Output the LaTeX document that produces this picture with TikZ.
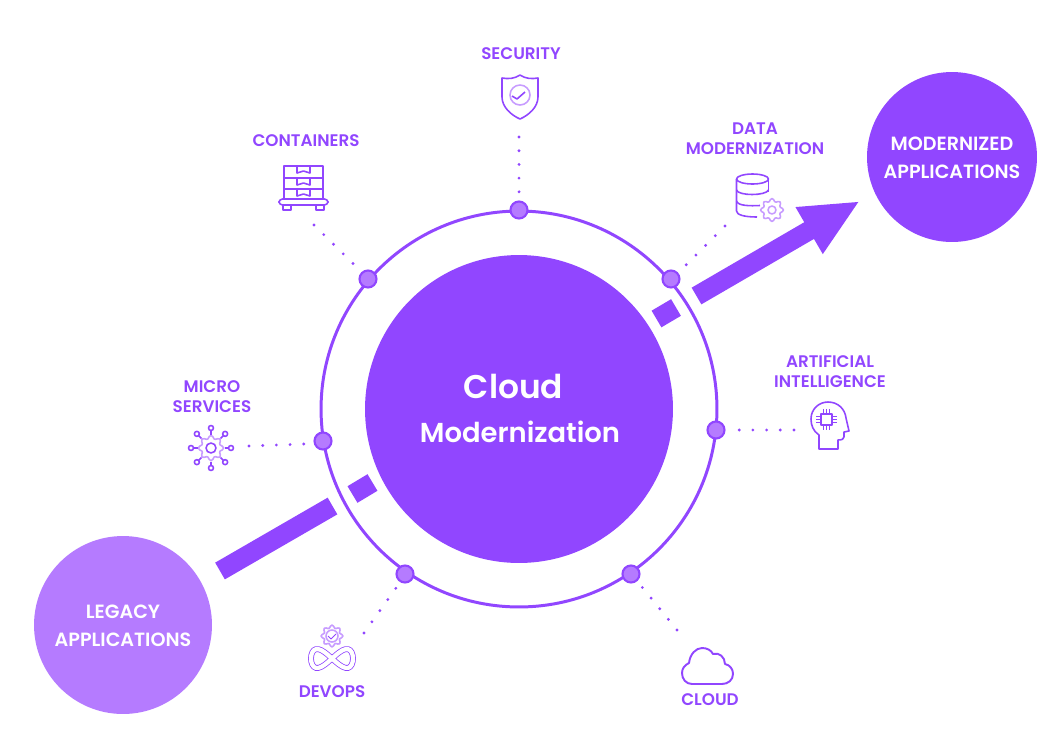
\documentclass[tikz,border=0pt]{standalone}
\usepackage{fontspec}
\setmainfont{Poppins}
\newfontfamily\labelfont{Poppins SemiBold}
\usetikzlibrary{arrows.meta}
\definecolor{mainpurple}{HTML}{9146FF}
\definecolor{softpurple}{HTML}{B57BFF}
\definecolor{palepurple}{HTML}{C79CFF}
\newcommand{\gearicon}[3]{\draw[iconlight] plot[smooth cycle, samples=40, domain=0:351, variable=\ang] ({#1+#3*(1+0.15*cos(8*\ang))*cos(\ang)},{#2+#3*(1+0.15*cos(8*\ang))*sin(\ang)});}
\begin{document}
\begin{tikzpicture}[x=0.02cm, y=-0.02cm,
    ringdot/.style = {draw=mainpurple, fill=softpurple, circle, line width=1.2pt, minimum size=0.34cm, inner sep=0pt},
    toplabel/.style = {text=mainpurple, font=\labelfont\fontsize{9.55}{11.4}\selectfont, align=center},
    bigtext/.style = {text=white, font=\labelfont\fontsize{10.9}{15.9}\selectfont, align=center},
    dotline/.style = {draw=mainpurple, line width=1.8pt, line cap=round, dash pattern=on 0pt off 7.8pt},
    bar/.style = {draw=mainpurple, line width=11pt},
    icon/.style = {draw=mainpurple, line width=0.9pt, line join=round},
    iconlight/.style = {draw=palepurple, line width=0.9pt, line join=round}]
    \useasboundingbox (0,0) rectangle (1055,755);

    % circles
    \node[draw=mainpurple, circle, line width=1.7pt, minimum size=7.92cm] (ring) at (519,409) {};
    \node[fill=mainpurple, circle, minimum size=6.16cm, inner sep=0pt] (core) at (519,409) {};
    \node[fill=mainpurple, circle, minimum size=3.4cm, inner sep=0pt] (modern) at (952,157) {};
    \node[fill=softpurple, circle, minimum size=3.56cm, inner sep=0pt] (legacy) at (123,625) {};
    \node[bigtext] (modlabel) at (952,158) {MODERNIZED\\APPLICATIONS};
    \node[bigtext] (leglabel) at (123,626) {LEGACY\\APPLICATIONS};
    \node[text=white, font=\labelfont\fontsize{18.7}{20}\selectfont] (cloudtext) at (513.5,386) {Cloud};
    \node[text=white, font=\labelfont\fontsize{15.6}{20}\selectfont] (modtext) at (520,432) {Modernization};

    % bars
    \coordinate (legA) at (220,571);
    \coordinate (legB) at (332.5,506);
    \coordinate (legC) at (352.5,494.5);
    \coordinate (legD) at (372.5,482.5);
    \coordinate (modA) at (656.5,319);
    \coordinate (modB) at (676,307.5);
    \coordinate (modC) at (696.5,296);
    \coordinate (modD) at (860,201);
    \draw[bar] (legA) -- (legB);
    \draw[bar] (legC) -- (legD);
    \draw[bar] (modA) -- (modB);
    \draw[bar, fill=mainpurple, -{Triangle[width=28.2pt, length=33.5pt]}] (modC) -- (modD);

    % ring dots
    \node[ringdot] (secdot) at (519,210) {};
    \node[ringdot] (condot) at (368,279) {};
    \node[ringdot] (datdot) at (671,279) {};
    \node[ringdot] (aidot) at (716,430) {};
    \node[ringdot] (micdot) at (323,441) {};
    \node[ringdot] (devdot) at (405,574) {};
    \node[ringdot] (clodot) at (631,574) {};

    % dotted lines
    \coordinate (secA) at (519,137);
    \coordinate (secB) at (519,192);
    \coordinate (conA) at (314,225);
    \coordinate (conB) at (353.5,264);
    \coordinate (datA) at (725,226);
    \coordinate (datB) at (686,265);
    \coordinate (aiA) at (794,430);
    \coordinate (aiB) at (738,430);
    \coordinate (micA) at (249,446);
    \coordinate (micB) at (304,444);
    \coordinate (devA) at (364,633);
    \coordinate (devB) at (396,588);
    \coordinate (cloA) at (677,630);
    \coordinate (cloB) at (642,587);
    \draw[dotline] (secA) -- (secB);
    \draw[dotline] (conA) -- (conB);
    \draw[dotline] (datA) -- (datB);
    \draw[dotline] (aiA) -- (aiB);
    \draw[dotline] (micA) -- (micB);
    \draw[dotline] (devA) -- (devB);
    \draw[dotline] (cloA) -- (cloB);

    % labels
    \node[toplabel] (seclabel) at (521,53.5) {SECURITY};
    \node[toplabel] (conlabel) at (306,140.5) {CONTAINERS};
    \node[toplabel] (datlabel) at (755,138.5) {DATA\\MODERNIZATION};
    \node[toplabel] (ailabel) at (830,371.5) {ARTIFICIAL\\INTELLIGENCE};
    \node[toplabel] (miclabel) at (212,396.5) {MICRO\\SERVICES};
    \node[toplabel] (devlabel) at (332,691.5) {DEVOPS};
    \node[toplabel] (clolabel) at (710,699.5) {CLOUD};

    % security icon
    \draw[icon] (520,75) .. controls (514,79) and (508,79) .. (502,78) -- (502,97) .. controls (502,107) and (511,115) .. (520,119) .. controls (529,115) and (538,107) .. (538,97) -- (538,78) .. controls (532,79) and (526,79) .. (520,75) -- cycle;
    \draw[iconlight] (520,95) circle[radius=10];
    \draw[icon] (512,96) -- (517,99) -- (525,92);

    % containers icon
    \draw[icon] (284,166) rectangle (323,199);
    \draw[icon] (284,178) -- (323,178);
    \draw[icon] (284,189) -- (323,189);
    \foreach \rowy in {166,178,189} {
        \draw[icon] (297,\rowy) -- (297,\rowy+7) -- (303.5,\rowy+5) -- (310,\rowy+7) -- (310,\rowy);
    }
    \draw[icon, rounded corners=2pt] (279,199) rectangle (328,205);
    \draw[icon] (283,205) rectangle (291,210);
    \draw[icon] (316,205) rectangle (324,210);

    % data icon
    \draw[icon] (752.5,179) ellipse[x radius=16, y radius=5];
    \draw[icon] (736.5,179) -- (736.5,211) .. controls (736.5,215) and (745,217) .. (757,217);
    \draw[icon] (768.5,179) -- (768.5,192);
    \draw[icon] (736.5,190) .. controls (738,196) and (766,196) .. (768.5,190);
    \draw[icon] (736.5,201) .. controls (738,206) and (750,206) .. (760,205.5);
    \gearicon{772}{210}{10}
    \draw[iconlight] (772,210) circle[radius=4];

    % ai icon
    \draw[icon] (819,449) -- (819,435) .. controls (813,431) and (811,425) .. (811,419) .. controls (811,409) and (819,402) .. (828,402) .. controls (838,402) and (845,409) .. (846,418) -- (849,431) -- (844,432) -- (844,437) .. controls (844,439) and (842,440) .. (838,440) -- (838,449) -- cycle;
    \draw[icon] (821,414) rectangle (832,425);
    \foreach \pin in {823.5,826.5,829.5} {
        \draw[icon, line width=0.6pt] (\pin,409) -- (\pin,414);
        \draw[icon, line width=0.6pt] (\pin,425) -- (\pin,430);
    }
    \foreach \pin in {416.5,419.5,422.5} {
        \draw[icon, line width=0.6pt] (816,\pin) -- (821,\pin);
        \draw[icon, line width=0.6pt] (832,\pin) -- (837,\pin);
    }

    % micro icon
    \gearicon{211}{448}{11}
    \draw[icon] (211,448) circle[radius=5];
    \foreach \spoke in {0,45,...,315} {
        \draw[icon] ({211+13.5*cos(\spoke)},{448+13.5*sin(\spoke)}) -- ({211+17.5*cos(\spoke)},{448+17.5*sin(\spoke)});
        \draw[icon] ({211+20*cos(\spoke)},{448+20*sin(\spoke)}) circle[radius=2.5];
    }

    % devops icon
    \gearicon{332}{636}{9.5}
    \draw[iconlight] (332,636) circle[radius=6];
    \draw[icon, line width=0.5pt] (328,636) -- (331,639) -- (336,634);
    \draw[draw=mainpurple, line width=0.45pt, double=white, double distance=2.4pt] plot[smooth cycle, samples=36, domain=0:350, variable=\ang] ({332+21*cos(\ang)},{658.5+9.5*sin(2*\ang)});

    % cloud icon
    \draw[icon, line width=1.1pt] (692,684) .. controls (686,684) and (682,679) .. (682,673) .. controls (682,668) and (685,665) .. (689,663) .. controls (690,654) and (696,648) .. (702,648) .. controls (707,648) and (711,650) .. (713,654) .. controls (719,652) and (725,657) .. (725,664) .. controls (730,665) and (733,669) .. (733,674) .. controls (733,680) and (728,684) .. (722,684) -- cycle;
\end{tikzpicture}
\end{document}
